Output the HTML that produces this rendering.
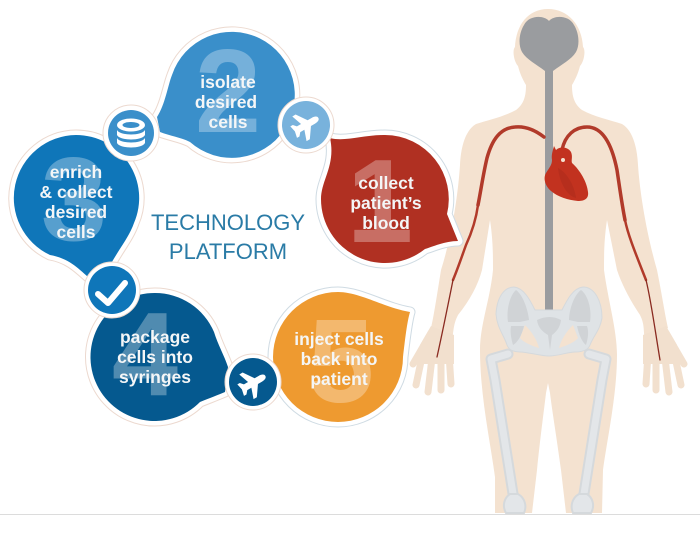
<!DOCTYPE html>
<html><head><meta charset="utf-8"><style>
html,body{margin:0;padding:0;background:#fff;width:700px;height:541px;overflow:hidden}
svg{display:block}
.t{font:bold 17.5px "Liberation Sans",sans-serif;fill:#f4f6f7;text-anchor:middle}
.d{font:bold 119px "Liberation Sans",sans-serif;fill:#fff;fill-opacity:.3;text-anchor:middle}
.h{font:22px "Liberation Sans",sans-serif;fill:#2a7ba6;text-anchor:middle}
</style></head><body>
<svg width="700" height="541" viewBox="0 0 700 541" xmlns="http://www.w3.org/2000/svg">
<defs>
<path id="b1" d="M330,138 C345,142 362,135 385,135 A64,64 0 0 1 447,214 L458,241 C445,241 432,247 425,249 A64,64 0 0 1 321,199 C321,180 336,165 330,138Z"/>
<path id="b2" d="M157,117 C165,105 168,85 172,75 A63,63 0 1 1 190,142 C180,137 170,136 160,132Z"/>
<path id="b3" d="M76,135 A63,63 0 0 1 134,223 C128,240 116,252 105,275 L88,277 C78,268 68,258 50,255 A63,63 0 0 1 76,135Z"/>
<path id="b4" d="M155,293 A64,64 0 0 1 214,332 C218,345 224,355 228,367 L225,392 C218,395 210,398 200,402 A64,64 0 1 1 155,293Z"/>
<path id="b5" d="M410,312 C407,322 405,340 403,357 A65,65 0 1 1 338,292 C360,292 385,308 410,312Z"/>
<path id="pl" d="M0,-15 C2.5,-15 3.5,-12 3.5,-9 L3.5,-4 L15,4 L15,8 L3.5,4 L3.5,9 L7,12 L7,15 L0,13.5 L-7,15 L-7,12 L-3.5,9 L-3.5,4 L-15,8 L-15,4 L-3.5,-4 L-3.5,-9 C-3.5,-12 -2.5,-15 0,-15Z"/>
</defs>

<!-- body -->
<path fill="#f4e2d0" d="M548,9 C568,9 582,25 583,47 C586,50 584,62 580,66 C578,74 575,80 572,85 C572,96 574,104 582,110 C595,117 610,120 622,124 C632,130 637,145 638,165 C640,195 647,235 657,270 C662,295 665,315 668,328 L645,340 C643,330 645,325 640,315 C630,300 622,285 617,270 L607,220 C604,240 604,255 604,270 C608,300 617,330 617,355 C617,395 607,440 603,470 L602,513 L566,513 L561,470 C557,440 552,410 550,393 L548,383 L546,393 C544,410 540,440 537,470 L532,513 L495,513 L495,477 C490,440 480,395 480,350 C480,325 490,300 493,270 C493,255 493,240 490,220 L482,270 C478,285 470,300 458,315 C453,325 454,330 452,340 L431,328 C434,315 437,295 441,270 C452,235 458,195 460,165 C461,145 466,130 476,124 C488,120 503,117 516,110 C524,104 526,96 526,85 C523,80 520,74 518,66 C514,62 512,50 515,47 C516,25 528,9 548,9Z"/>
<g fill="#f2e0ce" stroke="#f2e0ce" stroke-linecap="round">
<path stroke-width="0" d="M431,326 L454,335 L454,364 L420,364 L420,345Z"/>
<path stroke-width="7" d="M423,352 L416,385 M432,358 L428,392 M441,358 L441,390 M449,354 L451,384 M431,333 L413,364"/>
<path stroke-width="0" d="M666,326 L643,335 L643,364 L677,364 L677,345Z"/>
<path stroke-width="7" d="M674,352 L681,385 M665,358 L669,392 M656,358 L656,390 M648,354 L646,384 M666,333 L684,364"/>
</g>

<!-- brain & spine -->
<path fill="#9a9c9f" d="M549,21 C554,15 569,15 574,25 C579,33 580,45 576,52 C571,60 562,64 553,71 L553,311 L545,311 L545,71 C536,64 527,60 522,52 C518,45 519,33 524,25 C529,15 544,15 549,21Z"/>

<!-- arteries -->
<g fill="none" stroke="#b13a2a" stroke-linecap="round">
<path stroke-width="3.5" d="M544,137 C535,130 525,126 515,127 C500,128 492,140 487,158 C483,175 481,190 478,205"/>
<path stroke-width="2.5" d="M478,205 C476,220 472,232 466,245 C462,256 458,268 453,280"/>
<path stroke-width="1.3" stroke="#8a2a20" d="M453,280 C449,300 443,330 437,357"/>
<path stroke-width="3.5" d="M562,150 C565,135 575,127 587,127 C603,127 612,145 617,170 C620,190 622,205 625,220"/>
<path stroke-width="2.5" d="M625,220 C628,235 635,252 646,280"/>
<path stroke-width="1.3" stroke="#8a2a20" d="M646,280 C651,300 655,330 660,360"/>
</g>

<!-- heart -->
<path fill="#c2321f" d="M554,146 L556,150 C560,146 568,147 571,152 C573,157 571,160 572,163 C580,170 587,182 588,192 C589,199 584,201 578,201 C568,200 558,197 551,191 C545,186 543,178 546,173 C549,168 552,165 552,160 C551,155 553,150 554,146Z"/>
<path fill="#a92a1b" opacity=".5" d="M558,168 C566,172 574,184 576,198 C568,196 560,185 558,168Z"/>
<circle cx="563" cy="160" r="2" fill="#f4e2d0"/>

<!-- femurs -->
<g fill="none" stroke-linecap="round" stroke-linejoin="round">
<path stroke="#d5d9dc" stroke-width="11" d="M508,354 L491,359 L495,380 L514,500"/>
<path stroke="#e3e6e9" stroke-width="7" d="M508,354 L491,359 L495,380 L514,500"/>
<path stroke="#d5d9dc" stroke-width="11" d="M589,354 L606,359 L602,380 L583,500"/>
<path stroke="#e3e6e9" stroke-width="7" d="M589,354 L606,359 L602,380 L583,500"/>
</g>
<g fill="#e3e6e9" stroke="#d5d9dc" stroke-width="2">
<path d="M506,513 C502,506 504,498 510,494 L518,494 C525,498 527,506 524,513Z"/>
<path d="M573,513 C570,506 572,498 579,494 L587,494 C593,498 595,506 591,513Z"/>
</g>
<!-- pelvis -->
<path fill="#dfe3e6" stroke="#d5d9dc" d="M496,314 C497,296 505,287 514,287 C524,288 530,300 535,310 L562,310 C567,300 573,288 583,287 C594,287 602,300 602,318 C600,330 594,335 590,345 C588,350 582,352 575,352 C568,352 558,356 549,356 C540,356 528,352 520,352 C513,352 509,350 507,345 C504,335 497,328 496,314Z"/>
<g fill="#d0d3d6">
<path d="M516,290 C523,295 528,310 529,320 L520,322 L508,322 C506,310 510,295 516,290Z"/>
<path d="M581,290 C574,295 569,310 569,320 L578,322 L590,322 C592,310 588,295 581,290Z"/>
<path d="M537,320 C545,316 554,316 561,320 C560,328 556,332 552,335 L550,350 L548,335 C543,332 538,328 537,320Z"/>
<path d="M511,326 L524,326 C522,335 518,342 513,345 C511,338 510,332 511,326Z"/>
<path d="M587,326 L577,326 C579,335 582,342 586,345 C588,338 589,332 587,326Z"/>
</g>
<path fill="#f4e2d0" d="M525,325 C532,332 537,340 539,348 C532,346 523,342 520,338Z M573,325 C566,332 561,340 559,348 C566,346 575,342 578,338Z"/>

<!-- bubbles -->
<g fill="none" stroke="#ecd9cf" stroke-width="11" stroke-linejoin="round">
<use href="#b1" stroke="#cfdbe3"/><use href="#b2"/><use href="#b3"/><use href="#b4"/><use href="#b5" stroke="#cfdbe3"/>
</g>
<g fill="none" stroke="#fff" stroke-width="9" stroke-linejoin="round">
<use href="#b1"/><use href="#b2"/><use href="#b3"/><use href="#b4"/><use href="#b5"/>
</g>
<use href="#b1" fill="#b03022"/>
<use href="#b2" fill="#3a8fca"/>
<use href="#b3" fill="#0f76b9"/>
<use href="#b4" fill="#05598f"/>
<use href="#b5" fill="#ee9a30"/>

<text class="d" x="380" y="242">1</text>
<text class="d" x="228" y="132">2</text>
<text class="d" x="74" y="240">3</text>
<text class="d" x="145" y="395">4</text>
<text class="d" x="341" y="402">5</text>

<text class="t" x="386" y="189">collect</text>
<text class="t" x="386" y="209">patient’s</text>
<text class="t" x="386" y="229">blood</text>
<text class="t" x="228" y="88">isolate</text>
<text class="t" x="226" y="108">desired</text>
<text class="t" x="228" y="128">cells</text>
<text class="t" x="76" y="178">enrich</text>
<text class="t" x="76" y="198">&amp; collect</text>
<text class="t" x="76" y="218">desired</text>
<text class="t" x="76" y="238">cells</text>
<text class="t" x="155" y="343">package</text>
<text class="t" x="155" y="363">cells into</text>
<text class="t" x="155" y="383">syringes</text>
<text class="t" x="339" y="345">inject cells</text>
<text class="t" x="339" y="365">back into</text>
<text class="t" x="339" y="385">patient</text>

<text class="h" x="228" y="230">TECHNOLOGY</text>
<text class="h" x="228" y="259">PLATFORM</text>

<!-- circles -->
<g stroke="#ecd9cf" stroke-width="1" fill="#fff">
<circle cx="131" cy="133" r="28"/><circle cx="306" cy="125" r="28"/><circle cx="112" cy="290" r="28"/><circle cx="253" cy="382" r="28"/>
</g>
<circle cx="131" cy="133" r="23" fill="#3a8fca"/>
<circle cx="306" cy="125" r="24" fill="#78b2dc"/>
<circle cx="112" cy="290" r="24" fill="#0f76b9"/>
<circle cx="253" cy="382" r="24" fill="#05598f"/>

<!-- database icon -->
<g fill="#fff">
<ellipse cx="131" cy="125" rx="14" ry="6.5"/>
<path d="M117,130 C120,136 142,136 145,130 L145,135 C142,141 120,141 117,135Z"/>
<path d="M117,138 C120,144 142,144 145,138 L145,143 C142,149 120,149 117,143Z"/>
</g>
<ellipse cx="131" cy="125" rx="8.5" ry="3" fill="#3a8fca"/>

<!-- planes -->
<use href="#pl" fill="#fff" transform="translate(306,125) rotate(60) scale(.95)"/>
<use href="#pl" fill="#fff" transform="translate(253,383) rotate(60) scale(.95)"/>

<!-- check -->
<path fill="none" stroke="#fff" stroke-width="6" stroke-linecap="round" stroke-linejoin="round" d="M98,294 L108,303 L125,283"/>

<!-- rule -->
<rect x="0" y="514" width="700" height="1" fill="#dcdcdc"/>
</svg>
</body></html>
